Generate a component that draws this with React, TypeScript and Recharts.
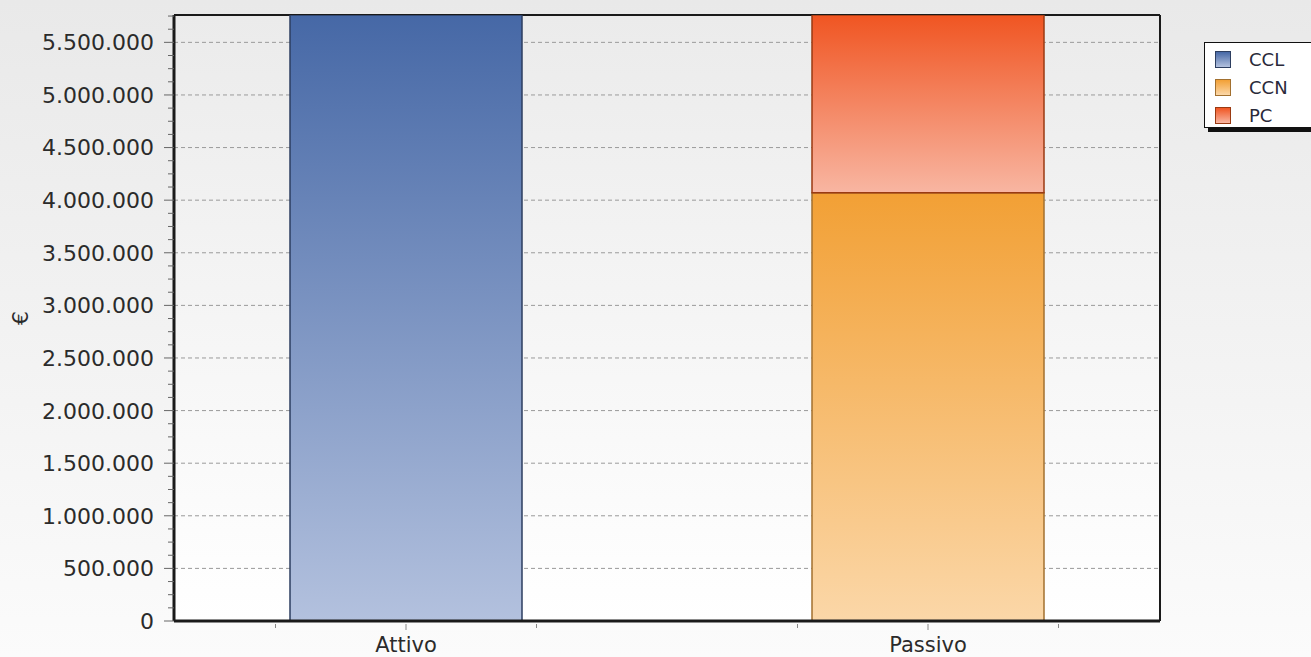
import { BarChart, Bar, XAxis, YAxis, CartesianGrid } from "recharts";

// balance sheet: assets vs liabilities (€)
const categories = ["Attivo", "Passivo"];
const cclValues = [5760000, 0];
const ccnValues = [0, 4070000];
const pcValues = [0, 1690000];

const yMax = 5760000;
const yMajorTicks = [0, 500000, 1000000, 1500000, 2000000, 2500000, 3000000, 3500000, 4000000, 4500000, 5000000, 5500000];
const yMinorStep = 125000;

// category centers sit at 0 and 1, boundary ticks a quarter away
const xDomain = [-4 / 9, 13 / 9];
const xTicks = [-0.25, 0, 0.25, 0.75, 1, 1.25];

const legendItems = [
  { name: "CCL", from: "#4668a6", to: "#b3c1de", border: "#2d3e60" },
  { name: "CCN", from: "#f2a035", to: "#fbd7a8", border: "#a2702f" },
  { name: "PC", from: "#f05522", to: "#f8b6a2", border: "#9a3a12" },
];

const data = categories.map((name, i) => ({
  pos: i,
  name,
  CCL: cclValues[i],
  CCN: ccnValues[i],
  PC: pcValues[i],
}));

const yTicks: number[] = [];
for (let v = 0; v <= yMax; v += yMinorStep) yTicks.push(v);

const FONT = "'DejaVu Sans', Verdana, sans-serif";

function fmt(v: number) {
  return String(Math.round(v)).replace(/\B(?=(\d{3})+(?!\d))/g, ".");
}

function YTick(props: any) {
  const { x, y, payload } = props;
  const major = payload.value % 500000 === 0;
  return (
    <g>
      <line x1={x - (major ? 10 : 6)} x2={x} y1={y} y2={y} stroke="#666" strokeWidth={1} />
      {major && (
        <text x={x - 20} y={y} dy="0.36em" textAnchor="end" fontFamily={FONT} fontSize={22} fill="#2b2b2b">
          {fmt(payload.value)}
        </text>
      )}
    </g>
  );
}

function XTick(props: any) {
  const { x, y, payload } = props;
  const idx = payload.value;
  const isCat = Number.isInteger(idx);
  return (
    <g>
      <line x1={x} x2={x} y1={y + 3} y2={y + (isCat ? 9 : 7)} stroke="#888" strokeWidth={1} />
      {isCat && (
        <text x={x} y={y + 31} textAnchor="middle" fontFamily={FONT} fontSize={21} fill="#2b2b2b">
          {categories[idx]}
        </text>
      )}
    </g>
  );
}

function GridH(props: any) {
  const { x1, x2, y1, y2 } = props;
  if (Math.abs(y1 - 15) < 1) {
    return <line x1={x1} x2={x2} y1={y1} y2={y2} stroke="#1a1a1a" strokeWidth={2} />;
  }
  return <line x1={x1} x2={x2} y1={y1} y2={y2} stroke="#9a9a9a" strokeWidth={1} strokeDasharray="4 3" />;
}

function GridV(props: any) {
  const { x1, x2, y1, y2 } = props;
  return <line x1={x1} x2={x2} y1={y1} y2={y2} stroke="#1a1a1a" strokeWidth={2} />;
}

function Legend() {
  return (
    <div
      style={{
        position: "absolute",
        left: 1204,
        top: 42,
        width: 120,
        height: 84,
        background: "#fff",
        border: "1px solid #111",
        boxShadow: "4px 4px 0 #111",
        fontFamily: FONT,
        fontSize: 18,
        color: "#2a2a3a",
      }}
    >
      {legendItems.map((it, i) => (
        <div key={it.name} style={{ position: "absolute", left: 10, top: 5 + i * 28, height: 22, display: "flex", alignItems: "center" }}>
          <div
            style={{
              width: 14,
              height: 15,
              border: `1px solid ${it.border}`,
              background: `linear-gradient(${it.from}, ${it.to})`,
            }}
          />
          <span style={{ marginLeft: 18 }}>{it.name}</span>
        </div>
      ))}
    </div>
  );
}

export default function App() {
  return (
    <div
      style={{
        position: "absolute",
        left: 0,
        top: 0,
        width: 1311,
        height: 657,
        overflow: "hidden",
        background: "linear-gradient(#e9e9e9, #fbfbfb)",
      }}
    >
      <BarChart width={1311} height={657} data={data} margin={{ top: 15, right: 151, bottom: 0, left: 0 }}>
        <defs>
          <linearGradient id="plotBg" x1="0" y1="0" x2="0" y2="1">
            <stop offset="0%" stopColor="#ebebeb" />
            <stop offset="100%" stopColor="#ffffff" />
          </linearGradient>
          {legendItems.map((it) => (
            <linearGradient key={it.name} id={`g-${it.name}`} x1="0" y1="0" x2="0" y2="1">
              <stop offset="0%" stopColor={it.from} />
              <stop offset="100%" stopColor={it.to} />
            </linearGradient>
          ))}
        </defs>
        <CartesianGrid
          fill="url(#plotBg)"
          horizontalValues={[...yMajorTicks.slice(1), yMax]}
          verticalValues={[13 / 9]}
          horizontal={GridH}
          vertical={GridV}
        />
        <XAxis
          dataKey="pos"
          type="number"
          domain={xDomain}
          ticks={xTicks}
          interval={0}
          height={36}
          tickSize={0}
          tickMargin={0}
          tick={XTick}
          allowDataOverflow
          axisLine={{ stroke: "#1a1a1a", strokeWidth: 3 }}
        />
        <YAxis
          type="number"
          domain={[0, yMax]}
          ticks={yTicks}
          interval={0}
          width={174}
          tickSize={0}
          tickMargin={0}
          tick={YTick}
          allowDataOverflow
          axisLine={{ stroke: "#1a1a1a", strokeWidth: 3 }}
          label={{
            content: () => (
              <text
                x={20}
                y={318}
                transform="rotate(-90 20 318)"
                textAnchor="middle"
                dominantBaseline="central"
                fontFamily={FONT}
                fontSize={22}
                fill="#2b2b2b"
              >
                €
              </text>
            ),
          }}
        />
        {legendItems.map((it) => (
          <Bar
            key={it.name}
            dataKey={it.name}
            stackId="a"
            barSize={232}
            fill={`url(#g-${it.name})`}
            stroke={it.border}
            strokeWidth={1.5}
            isAnimationActive={false}
          />
        ))}
      </BarChart>
      <Legend />
    </div>
  );
}
